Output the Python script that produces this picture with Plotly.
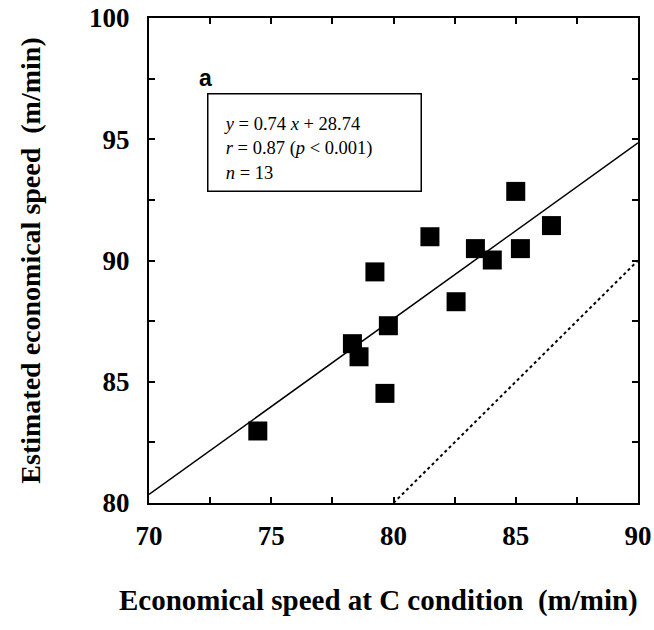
import plotly.graph_objects as go

# Data
c_speed = [74.45, 78.32, 78.59, 79.24, 79.79, 79.65, 81.49, 82.56, 83.35, 84.04, 85.00, 85.19, 86.46]
est_speed = [82.97, 86.57, 86.03, 89.53, 87.31, 84.52, 90.98, 88.30, 90.49, 90.02, 92.85, 90.49, 91.44]

fit_x = [70, 90]
fit_y = [80.35, 94.85]
identity_x = [80, 90]
identity_y = [80, 90]

x_tickvals = [70, 72.5, 75, 77.5, 80, 82.5, 85, 87.5, 90]
x_ticktext = ["70", "", "75", "", "80", "", "85", "", "90"]
y_tickvals = [80, 82.5, 85, 87.5, 90, 92.5, 95, 97.5, 100]
y_ticktext = ["80", "", "85", "", "90", "", "95", "", "100"]

serif = "Liberation Serif, Times New Roman, serif"

fig = go.Figure()
fig.add_trace(go.Scatter(x=fit_x, y=fit_y, mode="lines",
                         line=dict(color="black", width=1.5), showlegend=False))
fig.add_trace(go.Scatter(x=identity_x, y=identity_y, mode="lines",
                         line=dict(color="black", width=2, dash="dot"), showlegend=False))
fig.add_trace(go.Scatter(x=c_speed, y=est_speed, mode="markers",
                         marker=dict(symbol="square", size=19, color="black"),
                         showlegend=False))

axis_common = dict(showgrid=False, zeroline=False, showline=True, linecolor="black",
                   linewidth=2, mirror="ticks", ticks="inside", ticklen=6, tickwidth=1.5,
                   tickcolor="black", automargin=False,
                   tickfont=dict(family=serif, size=27, color="black", weight="bold"))

fig.update_xaxes(range=[70, 90], tickvals=x_tickvals, ticktext=x_ticktext,
                 ticklabelstandoff=8, **axis_common)
fig.update_yaxes(range=[80, 100], tickvals=y_tickvals, ticktext=y_ticktext,
                 ticklabelstandoff=12, **axis_common)

fig.add_annotation(x=-0.243, y=0.5, xref="paper", yref="paper",
                   text="<b>Estimated economical speed  (m/min)</b>", textangle=-90,
                   showarrow=False, xanchor="center", yanchor="middle",
                   font=dict(family=serif, size=28, color="black"))
fig.add_annotation(x=0.469, y=-0.2, xref="paper", yref="paper",
                   text="<b>Economical speed at C condition  (m/min)</b>",
                   showarrow=False, xanchor="center", yanchor="middle",
                   font=dict(family=serif, size=29, color="black"))

fig.add_annotation(x=0.115, y=0.876, xref="paper", yref="paper", text="<b>a</b>",
                   showarrow=False, xanchor="center", yanchor="middle",
                   font=dict(family="Liberation Sans, Arial, sans-serif", size=23, color="black"))

fig.add_annotation(x=0.1186, y=0.845, xref="paper", yref="paper",
                   text=("&nbsp;&nbsp;<i>y</i> = 0.74 <i>x</i> + 28.74<br>"
                         "&nbsp;&nbsp;<i>r</i> = 0.87 (<i>p</i> < 0.001)<br>"
                         "&nbsp;&nbsp;<i>n</i> = 13"),
                   showarrow=False, align="left", valign="bottom", xanchor="left", yanchor="top",
                   font=dict(family=serif, size=18.5, color="black"),
                   bordercolor="black", borderwidth=1.5, borderpad=8, bgcolor="white",
                   width=196, height=80)

fig.update_layout(width=654, height=630,
                  margin=dict(l=149, r=16, t=18, b=127, autoexpand=False),
                  plot_bgcolor="white", paper_bgcolor="white")

fig.write_html("out.html", config={"displayModeBar": False},
               post_script="document.body.style.margin='0';document.body.style.overflow='hidden';")
